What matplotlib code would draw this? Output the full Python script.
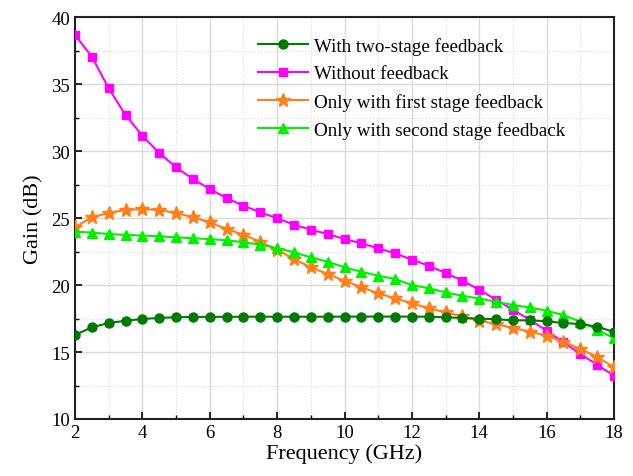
import matplotlib
matplotlib.use("Agg")
import matplotlib.pyplot as plt
from matplotlib.ticker import MultipleLocator

freq = [2 + 0.5 * i for i in range(33)]

two_stage = [16.27, 16.85, 17.17, 17.34, 17.47, 17.55, 17.6, 17.62, 17.63, 17.63, 17.64, 17.64,
             17.64, 17.64, 17.64, 17.64, 17.65, 17.65, 17.65, 17.65, 17.65, 17.64, 17.6, 17.54,
             17.5, 17.45, 17.37, 17.37, 17.3, 17.17, 17.09, 16.9, 16.5]

without = [38.68, 37.06, 34.7, 32.7, 31.16, 29.87, 28.8, 27.92, 27.18, 26.5, 25.93, 25.44,
           24.99, 24.51, 24.14, 23.82, 23.44, 23.12, 22.75, 22.37, 21.9, 21.45, 20.9, 20.33,
           19.66, 18.9, 18.16, 17.41, 16.59, 15.72, 14.85, 14.05, 13.23]

first_stage = [24.32, 25.07, 25.39, 25.61, 25.68, 25.61, 25.39, 25.07, 24.69, 24.19, 23.76, 23.24,
               22.64, 21.95, 21.33, 20.83, 20.33, 19.84, 19.39, 19.01, 18.64, 18.27, 17.97, 17.67,
               17.34, 17.09, 16.8, 16.52, 16.22, 15.77, 15.23, 14.65, 13.86]

second_stage = [24.0, 23.92, 23.82, 23.75, 23.7, 23.65, 23.57, 23.5, 23.44, 23.35, 23.2, 23.02,
                22.77, 22.45, 22.07, 21.75, 21.33, 21.0, 20.7, 20.46, 20.0, 19.76, 19.46, 19.2,
                19.0, 18.76, 18.51, 18.33, 18.09, 17.76, 17.27, 16.67, 16.03]

labels = ["With two-stage feedback", "Without feedback",
          "Only with first stage feedback", "Only with second stage feedback"]

plt.rcParams['font.family'] = ['Liberation Serif', 'DejaVu Serif']

fig = plt.figure(figsize=(6.33, 4.77), dpi=100)
ax = fig.add_axes([0.1185, 0.1195, 0.8515, 0.842])

ax.plot(freq, two_stage, color='#007A00', marker='o', markersize=6.5, lw=1.5, label=labels[0], zorder=6)
ax.plot(freq, without, color='#FF00FF', marker='s', markersize=6.3, lw=1.5, label=labels[1], zorder=3)
ax.plot(freq, first_stage, color='#FF7F1A', marker='*', markersize=10, lw=1.5, label=labels[2], zorder=4)
ax.plot(freq, second_stage, color='#00F000', marker='^', markersize=7.5, lw=1.5, label=labels[3], zorder=5)

ax.set_xlim(2, 18)
ax.set_ylim(10, 40)
ax.xaxis.set_major_locator(MultipleLocator(2))
ax.xaxis.set_minor_locator(MultipleLocator(1))
ax.yaxis.set_major_locator(MultipleLocator(5))
ax.yaxis.set_minor_locator(MultipleLocator(2.5))

ax.grid(which='major', color='#DADADA', lw=1.0, ls='-')
ax.grid(which='minor', color='#DADADA', lw=0.8, ls=':')
ax.set_axisbelow(True)

ax.tick_params(which='both', direction='in', top=False, right=False, labelsize=13.5, colors='black')
ax.tick_params(which='major', length=5, width=1.2)
ax.tick_params(which='minor', length=3, width=1.0)
for sp in ax.spines.values():
    sp.set_linewidth(1.5)
    sp.set_color('#222222')

ax.set_xlabel("Frequency (GHz)", fontsize=16, labelpad=2)
ax.set_ylabel("Gain (dB)", fontsize=16, labelpad=6)

leg = ax.legend(loc='upper left', bbox_to_anchor=(0.318, 0.98), frameon=False, fontsize=13.7,
                handlelength=2.65, handletextpad=0.3, labelspacing=0.55, borderaxespad=0.2)

fig.savefig("out.png", dpi=100)
